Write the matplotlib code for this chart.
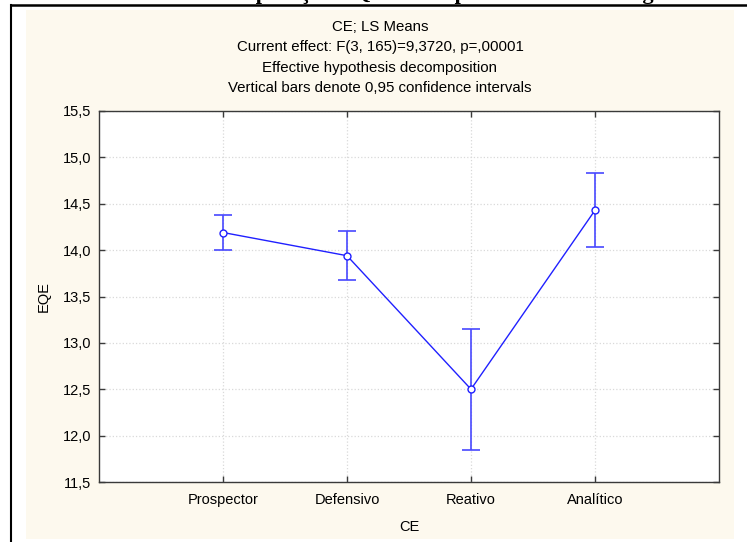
import matplotlib
matplotlib.use("Agg")
import matplotlib.pyplot as plt
from matplotlib.patches import Rectangle
from matplotlib.lines import Line2D
from matplotlib.ticker import FuncFormatter, MultipleLocator

# ---------------- data ----------------
categories = ["Prospector", "Defensivo", "Reativo", "Analítico"]
means = [14.19, 13.94, 12.50, 14.43]
ci_half = [0.19, 0.265, 0.65, 0.40]

title_lines = [
    "CE; LS Means",
    "Current effect: F(3, 165)=9,3720, p=,00001",
    "Effective hypothesis decomposition",
    "Vertical bars denote 0,95 confidence intervals",
]
caption = "Gráfico 6 – Comparação EQE x Comportamento Estratégico"

plt.rcParams["font.family"] = ["Liberation Sans", "DejaVu Sans"]

W, H = 747, 542
fig = plt.figure(figsize=(W / 100, H / 100), dpi=100)
fig.patch.set_facecolor("white")

# cream panel behind the chart
fig.add_artist(Rectangle((26 / W, 1 - 539 / H), (734 - 26) / W, (539 - 10) / H,
                         transform=fig.transFigure, facecolor="#fdf9ee",
                         edgecolor="none", zorder=0))

# page frame lines (top and left)
fig.add_artist(Line2D([11 / W, 1], [1 - 5 / H, 1 - 5 / H], transform=fig.transFigure,
                      color="black", lw=1.8))
fig.add_artist(Line2D([11 / W, 11 / W], [1 - 5 / H, 0], transform=fig.transFigure,
                      color="black", lw=1.5))

# document caption, cut by the top edge
fig.text(97 / W, 1 + 1.5 / H, caption, ha="left", va="baseline",
         family="Liberation Serif", fontweight="bold", fontsize=16.1)

ax = fig.add_axes([99 / W, 1 - 482 / H, 620 / W, 371 / H])
ax.set_facecolor("white")

x = list(range(1, len(categories) + 1))
ax.errorbar(x, means, yerr=ci_half, fmt="none", ecolor="#4848ff",
            elinewidth=1.2, capsize=6.5, capthick=1.2, zorder=3)
ax.plot(x, means, color="#2020ff", lw=1.0, marker="o", markersize=5,
        markerfacecolor="white", markeredgecolor="#2020ff", markeredgewidth=1.0,
        zorder=4)

ax.set_xlim(0, len(categories) + 1)
ax.set_ylim(11.5, 15.5)
ax.set_xticks(x)
ax.set_xticklabels(categories)
ax.yaxis.set_major_locator(MultipleLocator(0.5))
ax.yaxis.set_major_formatter(FuncFormatter(lambda v, p: f"{v:.1f}".replace(".", ",")))

ax.grid(True, color="#d9d9d9", linestyle=":", linewidth=0.9)
ax.set_axisbelow(True)
for s in ax.spines.values():
    s.set_color("#3a3a3a")
    s.set_linewidth(1.0)
ax.tick_params(direction="in", length=4, width=1, color="#3a3a3a",
               top=True, right=True, labelsize=10.5)
ax.tick_params(axis="x", pad=8)
ax.tick_params(axis="y", pad=5.5)

ax.set_xlabel("CE", fontsize=10.5, labelpad=9)
ax.set_ylabel("EQE", fontsize=10.5, labelpad=9)

for i, line in enumerate(title_lines):
    fig.text(380 / W, 1 - (27 + 20.4 * i) / H, line, ha="center", va="center",
             fontsize=10.8)

fig.savefig("out.png", dpi=100, facecolor="white")
